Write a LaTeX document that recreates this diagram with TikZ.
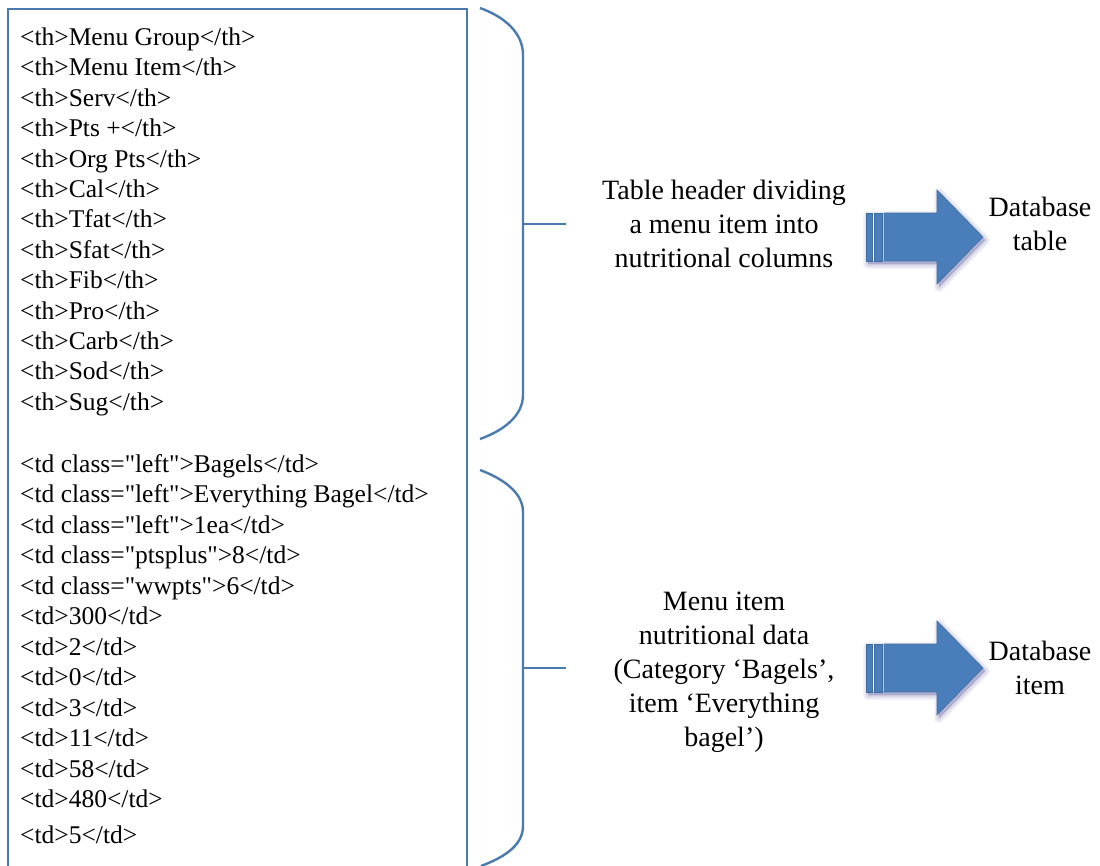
\documentclass[tikz,border=0pt]{standalone}
\usepackage{fontspec}
\setmainfont{LiberationSerif}[Extension=.ttf, UprightFont=*-Regular, BoldFont=*-Bold, ItalicFont=*-Italic, BoldItalicFont=*-BoldItalic]
\definecolor{frameblue}{HTML}{4A7AAE}
\definecolor{arrowfill}{HTML}{4A7EBB}
\definecolor{arrowedge}{HTML}{3F6C9F}
\newcommand\qq{\textquotedbl}
\newcommand\arrowoutline{(0,-24) -- (71,-24) -- (71,-47) -- (117,0) -- (71,47) -- (71,24) -- (0,24) -- cycle}
\tikzset{
  codeline/.style={anchor=base west, inner sep=0pt, font=\rmfamily\fontsize{25.5}{30}\selectfont},
  caption/.style={align=center, inner sep=0pt, font=\rmfamily\fontsize{28}{34}\selectfont},
  frame/.style={draw=frameblue, line width=2pt},
  brace/.style={draw=frameblue, line width=2.4pt},
  arrowedge/.style={draw=arrowedge, line width=0.6pt},
  softshadow/.style={draw=black!55!blue, draw opacity=0.05, fill=black!55!blue, fill opacity=0.05, line join=round},
  stripe arrow/.pic={
    % soft shadow below and right of the arrow
    \foreach \w in {10,7,4,1}
      \path[softshadow, line width=\w pt, shift={(2,3)}] \arrowoutline;
    % silhouette
    \path[fill=arrowfill] \arrowoutline;
    % thin gaps separating the two stripes from the body
    \fill[white] (6,-24) rectangle (8,24);
    \fill[white] (16,-24) rectangle (18,24);
    \path[arrowedge] (0,-24) rectangle (6,24);
    \path[arrowedge] (8,-24) rectangle (16,24);
    \path[arrowedge] (18,-24) -- (71,-24) -- (71,-47) -- (117,0) -- (71,47) -- (71,24) -- (18,24) -- cycle;
  }
}
\begin{document}
\begin{tikzpicture}[x=1pt,y=-1pt]
\clip (0,0) rectangle (1100,865);
\fill[white] (0,0) rectangle (1100,865);

% HTML source listing in an open-bottomed frame
\draw[frame] (8,880) -- (8,9) -- (467,9) -- (467,880);

\foreach \t [count=\i from 0] in {Menu Group, Menu Item, Serv, Pts +, Org Pts, Cal, Tfat, Sfat, Fib, Pro, Carb, Sod, Sug}
  \node[codeline] (th\i) at (20, 45.5+30.4*\i) {<th>\t</th>};

\foreach \t [count=\i from 0] in {
  {<td class=\qq left\qq>Bagels</td>},
  {<td class=\qq left\qq>Everything Bagel</td>},
  {<td class=\qq left\qq>1ea</td>},
  {<td class=\qq ptsplus\qq>8</td>},
  {<td class=\qq wwpts\qq>6</td>},
  {<td>300</td>},
  {<td>2</td>},
  {<td>0</td>},
  {<td>3</td>},
  {<td>11</td>},
  {<td>58</td>},
  {<td>480</td>}}
  \node[codeline] (td\i) at (20, 472.5+30.45*\i) {\t};
\node[codeline] (td12) at (20, 843.5) {<td>5</td>};

% braces grouping the header cells and the data cells
\draw[brace] (480,8) .. controls (505,17) and (523,33) .. (523,55)
  -- (523,395) .. controls (523,415) and (505,430) .. (480,439);
\draw[brace] (523,224) -- (566,224);

\draw[brace] (480,470) .. controls (504,479) and (523,493) .. (523,512)
  -- (523,826) .. controls (523,845) and (505,857) .. (481,866);
\draw[brace] (523,668) -- (566,668);

% descriptions
\node[caption] (hdr) at (724,223.5) {Table header dividing\\a menu item into\\nutritional columns};
\node[caption] (dat) at (724,672) {Menu item\\nutritional data\\(Category ‘Bagels’,\\item ‘Everything\\bagel’)};

% results
\pic at (866,237) {stripe arrow};
\pic at (866,668) {stripe arrow};
\node[caption] (dbt) at (1040,223.5) {Database\\table};
\node[caption] (dbi) at (1040,667.5) {Database\\item};
\end{tikzpicture}
\end{document}
